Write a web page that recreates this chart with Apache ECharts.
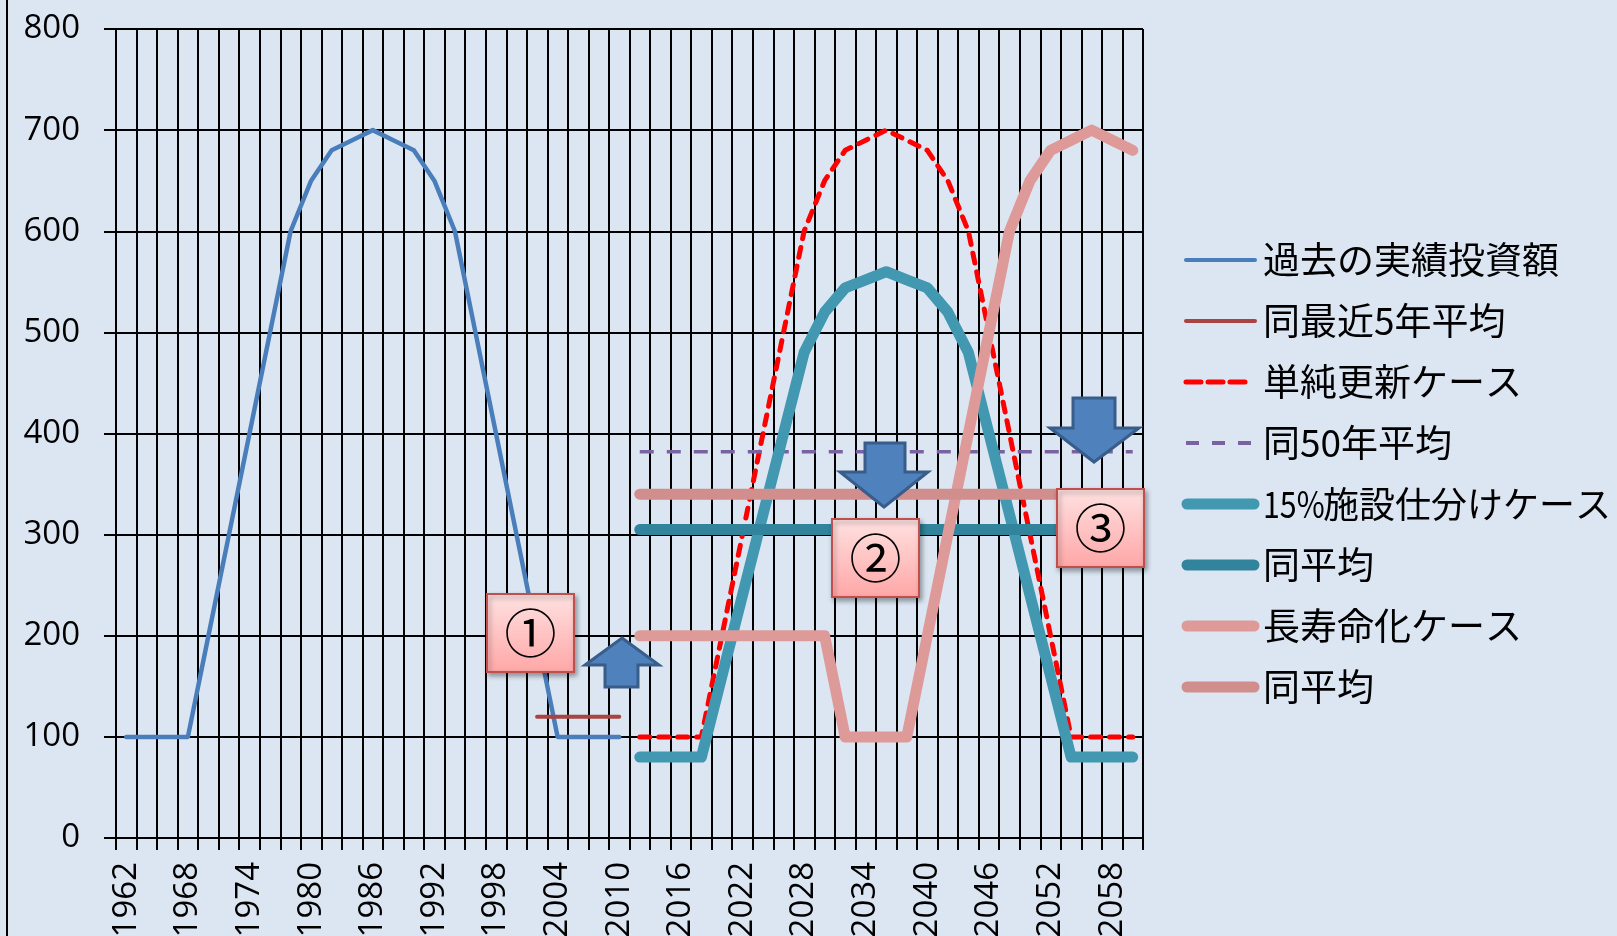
<!DOCTYPE html>
<html>
<head>
<meta charset="utf-8">
<script src="https://cdn.jsdelivr.net/npm/echarts@6/dist/echarts.min.js"></script>
<style>
html,body{margin:0;padding:0;background:#DCE6F2;}
#c{width:1617px;height:936px;}
</style>
</head>
<body>
<div id="c"></div>
<script>
// Categories: 2-year bins
const years = [];
for (let y = 1962; y <= 2060; y += 2) years.push(String(y));

const yTicks = [0, 100, 200, 300, 400, 500, 600, 700, 800];

// 過去の実績投資額 (1962-2010)
const pastActual = [100,100,100,100,200,300,400,500,600,650,680,690,700,690,680,650,600,500,400,300,200,100,100,100,100];
// 同最近5年平均 (2002-2010)
const recent5Avg = [120,120,120,120,120];
// 単純更新ケース (2012-2060)
const simpleRenewal = [100,100,100,100,200,300,400,500,600,650,680,690,700,690,680,650,600,500,400,300,200,100,100,100,100];
// 同50年平均
const avg50 = [382,382,382,382,382,382,382,382,382,382,382,382,382,382,382,382,382,382,382,382,382,382,382,382,382];
// 15%施設仕分けケース
const sort15 = [80,80,80,80,160,240,320,400,480,520,544,552,560,552,544,520,480,400,320,240,160,80,80,80,80];
// 同平均 (15%)
const sort15Avg = [305,305,305,305,305,305,305,305,305,305,305,305,305,305,305,305,305,305,305,305,305,305,305,305,305];
// 長寿命化ケース
const longLife = [200,200,200,200,200,200,200,200,200,200,100,100,100,100,200,300,400,500,600,650,680,690,700,690,680];
// 同平均 (長寿命化)
const longLifeAvg = [340,340,340,340,340,340,340,340,340,340,340,340,340,340,340,340,340,340,340,340,340,340,340,340,340];

const names = ['過去の実績投資額','同最近5年平均','単純更新ケース','同50年平均','15%施設仕分けケース','同平均','長寿命化ケース','同平均'];

function place(startYear, arr) {
  const out = years.map(() => null);
  const s = years.indexOf(String(startYear));
  arr.forEach((v, i) => { out[s + i] = v; });
  return out;
}

const styles = [
  { color: '#4A7EBB', width: 4.5, dash: null, cap: 'round' },
  { color: '#A84442', width: 4, dash: null, cap: 'round' },
  { color: '#FF0000', width: 5, dash: [10, 9], cap: 'round' },
  { color: '#7A62A0', width: 3.5, dash: [14, 13], cap: 'butt' },
  { color: '#4198B0', width: 11, dash: null, cap: 'round' },
  { color: '#31849B', width: 11, dash: null, cap: 'round' },
  { color: '#DE9A98', width: 11, dash: null, cap: 'round' },
  { color: '#D08E8C', width: 11, dash: null, cap: 'round' }
];

const chart = echarts.init(document.getElementById('c'));

function lineSeries(i, data) {
  const s = styles[i];
  return {
    name: names[i] + (i === 7 ? ' ' : ''), type: 'line', data: data, symbol: 'none', showSymbol: false,
    connectNulls: false, silent: true, animation: false,
    lineStyle: { color: s.color, width: s.width, type: s.dash || 'solid', cap: s.cap, join: 'round' },
    itemStyle: { color: s.color }
  };
}

const boxFill = new echarts.graphic.LinearGradient(0, 0, 0, 1, [
  { offset: 0, color: '#FFE2E2' }, { offset: 1, color: '#FFA6A6' }
]);

function box(x, y, label) {
  return [
    { type: 'rect', z: 100, shape: { x: x, y: y, width: 87, height: 78 },
      style: { fill: boxFill, stroke: '#C0504D', lineWidth: 2,
        shadowBlur: 5, shadowOffsetX: 2, shadowOffsetY: 3, shadowColor: 'rgba(0,0,0,0.35)' } },
    { type: 'text', z: 101, x: x + 43.5, y: y + 39,
      style: { text: label, fill: '#000', font: '52px "Noto Sans CJK JP"', align: 'center', verticalAlign: 'middle' } }
  ];
}

function arrow(points) {
  return { type: 'polygon', z: 100, shape: { points: points },
    style: { fill: '#4F81BD', stroke: '#385D8A', lineWidth: 3, lineJoin: 'miter' } };
}

const legendFont = '37px "Noto Sans CJK JP"';

// Legend drawn as graphic (line sample + text)
const legendItems = [];
names.forEach((n, i) => {
  const s = styles[i];
  const cy = 260 + 61 * i;
  const thick = s.width > 6;
  const x1 = thick ? 1187 : 1186;
  let x2 = thick ? 1254 : 1255;
  let dash = null;
  if (i === 2) { dash = [15, 7]; x2 = 1247; }
  if (i === 3) { dash = [13, 13]; x2 = 1252; }
  legendItems.push({
    type: 'line', z: 100, shape: { x1: x1, y1: cy, x2: x2, y2: cy },
    style: { stroke: s.color, lineWidth: thick ? 11 : (i === 2 ? 5 : 4), lineCap: i === 3 ? 'butt' : 'round', lineDash: dash }
  });
  const m = n.match(/^([0-9%]+)(.*)$/);
  if (m) {
    // leading Latin part ("15%") set narrower, as in the original face
    legendItems.push({
      type: 'text', z: 100, x: 1263, y: cy, scaleX: 0.82,
      style: { text: m[1], fill: '#000', font: legendFont, align: 'left', verticalAlign: 'middle' }
    });
    legendItems.push({
      type: 'text', z: 100, x: 1323, y: cy,
      style: { text: m[2], fill: '#000', font: '36px "Noto Sans CJK JP"', align: 'left', verticalAlign: 'middle' }
    });
  } else {
    legendItems.push({
      type: 'text', z: 100, x: 1263, y: cy,
      style: { text: n, fill: '#000', font: legendFont, align: 'left', verticalAlign: 'middle' }
    });
  }
});

const graphics = [].concat(
  [{ type: 'line', z: 100, shape: { x1: 7, y1: 0, x2: 7, y2: 936 }, style: { stroke: '#000', lineWidth: 2 } }],
  box(487, 594, '①'),
  box(832, 519, '②'),
  box(1057, 489, '③'),
  [
    arrow([[622,638],[659,665],[638,665],[638,687],[605,687],[605,665],[585,665]]),
    arrow([[865,443],[905,443],[905,472],[928,472],[884,507],[840,472],[865,472]]),
    arrow([[1073,398],[1115,398],[1115,428],[1139,428],[1094,462],[1050,428],[1073,428]])
  ],
  legendItems
);

chart.setOption({
  backgroundColor: '#DCE6F2',
  animation: false,
  grid: { left: 116, right: 474, top: 29, bottom: 98, containLabel: false, outerBoundsMode: 'none' },
  xAxis: {
    type: 'category', data: years, boundaryGap: true,
    axisLine: { show: true, lineStyle: { color: '#000', width: 2 } },
    axisTick: { show: true, interval: 0, length: 12, lineStyle: { color: '#000', width: 2 } },
    splitLine: { show: true, interval: 0, lineStyle: { color: '#000', width: 2 } },
    axisLabel: { interval: 2, rotate: 90, margin: 24, fontSize: 33, color: '#000', fontFamily: '"Open Sans"' }
  },
  yAxis: {
    type: 'value', min: yTicks[0], max: yTicks[yTicks.length - 1], interval: 100,
    axisLine: { show: false },
    axisTick: { show: true, length: 12, lineStyle: { color: '#000', width: 2 } },
    splitLine: { show: true, lineStyle: { color: '#000', width: 2 } },
    axisLabel: { margin: 36, fontSize: 33, color: '#000', fontFamily: '"Open Sans"' }
  },
  series: [
    lineSeries(0, place(1962, pastActual)),
    lineSeries(1, place(2002, recent5Avg)),
    lineSeries(2, place(2012, simpleRenewal)),
    lineSeries(3, place(2012, avg50)),
    lineSeries(4, place(2012, sort15)),
    lineSeries(5, place(2012, sort15Avg)),
    lineSeries(6, place(2012, longLife)),
    lineSeries(7, place(2012, longLifeAvg))
  ],
  graphic: graphics
});
</script>
</body>
</html>
